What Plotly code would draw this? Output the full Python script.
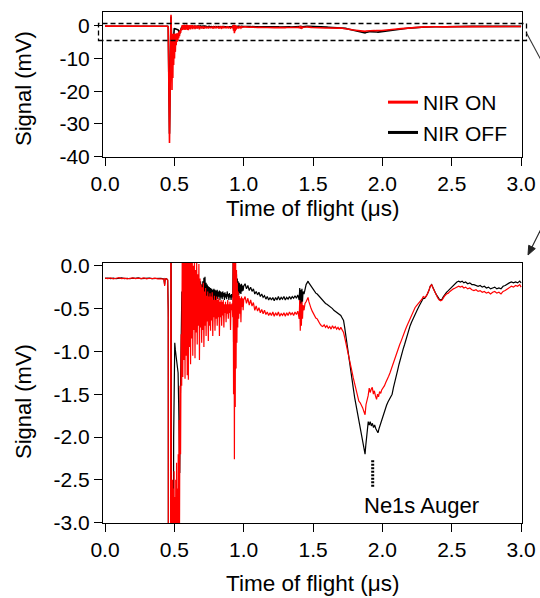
import plotly.graph_objects as go

# ---------------- data (time of flight in µs, signal in mV) ----------------
nir_on = [
    (0.000,-0.145),(0.020,-0.150),(0.040,-0.142),(0.060,-0.152),(0.080,-0.146),(0.100,-0.140),
    (0.120,-0.150),(0.140,-0.144),(0.160,-0.153),(0.180,-0.147),(0.200,-0.142),(0.220,-0.151),
    (0.240,-0.145),(0.260,-0.150),(0.280,-0.143),(0.300,-0.152),(0.320,-0.146),(0.340,-0.150),
    (0.360,-0.145),(0.380,-0.153),(0.400,-0.148),(0.415,-0.152),(0.425,-0.160),(0.430,-0.235),
    (0.434,-0.150),(0.445,-0.155),(0.452,-0.170),
    (0.456,-0.60),(0.460,-14.0),(0.465,-35.8),(0.469,-22.0),(0.473,-2.0),(0.476,3.3),(0.479,-4.0),
    (0.483,-19.6),(0.486,-2.5),(0.489,-16.0),(0.492,-2.6),(0.495,-12.0),(0.498,-2.4),(0.501,-10.0),
    (0.504,-2.7),(0.507,-8.0),(0.510,-2.5),(0.513,-6.0),(0.516,-2.3),(0.519,-5.0),(0.522,-2.6),
    (0.525,-4.5),(0.528,-2.2),(0.531,-3.8),(0.534,-1.8),(0.537,-3.2),(0.541,-1.4),(0.545,-2.2),
    (0.549,-0.8),(0.553,-1.4),(0.557,0.15),
    (0.561,-1.30),(0.565,0.20),(0.569,-1.10),(0.573,0.30),(0.577,-1.32),(0.581,0.20),(0.585,-1.05),
    (0.589,0.30),(0.593,-1.28),(0.597,0.15),(0.601,-1.33),(0.605,0.10),(0.609,-0.95),(0.613,0.20),
    (0.617,-1.15),(0.621,0.10),(0.625,-0.85),(0.629,0.15),(0.633,-1.05),(0.637,0.00),(0.641,-0.75),
    (0.645,0.10),(0.649,-1.08),(0.653,-0.05),(0.657,-0.78),(0.661,0.05),(0.665,-0.92),(0.669,-0.10),
    (0.673,-0.70),(0.677,0.02),(0.681,-1.10),(0.685,-0.15),(0.689,-0.72),(0.693,-0.22),(0.697,-0.90),
    (0.701,-0.25),(0.705,-0.75),(0.709,-0.20),(0.713,-0.95),(0.717,-0.30),(0.721,-0.70),(0.725,-0.26),
    (0.729,-0.82),(0.733,-0.35),(0.737,-0.65),(0.741,-0.30),(0.745,-0.88),(0.749,-0.36),(0.753,-0.70),
    (0.757,-0.32),(0.761,-0.76),(0.765,-0.36),(0.769,-0.64),(0.773,-0.31),(0.777,-0.82),(0.781,-0.40),
    (0.785,-0.60),(0.789,-0.35),(0.793,-0.76),(0.797,-0.40),(0.801,-0.62),(0.805,-0.36),(0.809,-0.70),
    (0.813,-0.40),(0.817,-0.60),(0.821,-0.38),(0.825,-0.82),(0.829,-0.42),(0.833,-0.60),(0.837,-0.40),
    (0.841,-0.70),(0.845,-0.42),(0.849,-0.58),(0.853,-0.40),(0.857,-0.72),(0.861,-0.45),(0.865,-0.55),
    (0.869,-0.42),(0.873,-0.66),(0.877,-0.45),(0.881,-0.56),(0.885,-0.40),(0.889,-0.62),(0.893,-0.45),
    (0.897,-0.55),(0.901,-0.42),(0.905,-0.75),(0.909,-0.45),(0.913,-0.52),(0.917,-0.44),(0.921,-0.60),
    (0.924,0.20),(0.927,-1.50),(0.930,0.30),(0.933,-2.26),(0.936,0.20),(0.939,-1.65),(0.942,0.10),
    (0.945,-1.20),(0.948,-0.05),(0.951,-0.90),(0.954,-0.20),(0.957,-0.72),(0.960,-0.30),(0.964,-0.62),
    (0.968,-0.35),(0.972,-0.56),(0.976,-0.38),(0.980,-0.66),(0.984,-0.36),(0.988,-0.48),(0.992,-0.38),
    (0.996,-0.52),
    (1.000,-0.40),(1.010,-0.36),(1.020,-0.44),(1.030,-0.38),(1.040,-0.46),(1.050,-0.40),(1.060,-0.47),
    (1.070,-0.43),(1.080,-0.52),(1.090,-0.47),(1.100,-0.53),(1.110,-0.49),(1.120,-0.55),(1.130,-0.51),
    (1.140,-0.56),(1.150,-0.52),(1.160,-0.57),(1.170,-0.54),(1.180,-0.58),(1.190,-0.55),(1.200,-0.58),
    (1.210,-0.54),(1.220,-0.59),(1.230,-0.55),(1.240,-0.58),(1.250,-0.54),(1.260,-0.59),(1.270,-0.56),
    (1.280,-0.58),(1.290,-0.55),(1.300,-0.59),(1.310,-0.55),(1.320,-0.58),(1.330,-0.54),(1.340,-0.57),
    (1.350,-0.55),(1.360,-0.58),(1.370,-0.54),(1.380,-0.57),(1.390,-0.53),(1.400,-0.62),(1.404,-0.40),
    (1.408,-0.76),(1.412,-0.44),(1.416,-0.70),(1.420,-0.42),(1.424,-0.62),(1.428,-0.46),(1.435,-0.52),
    (1.442,-0.44),(1.450,-0.42),(1.457,-0.39),(1.464,-0.37),(1.470,-0.42),(1.478,-0.47),(1.486,-0.50),
    (1.494,-0.53),(1.502,-0.56),(1.510,-0.58),(1.520,-0.61),(1.530,-0.62),(1.540,-0.66),(1.550,-0.68),
    (1.560,-0.70),(1.570,-0.71),(1.580,-0.69),(1.590,-0.72),(1.600,-0.70),(1.610,-0.73),(1.620,-0.71),
    (1.630,-0.74),(1.640,-0.70),(1.650,-0.73),(1.660,-0.71),(1.670,-0.74),(1.680,-0.72),(1.690,-0.75),
    (1.700,-0.72),(1.710,-0.76),(1.720,-0.78),(1.730,-0.85),(1.740,-0.92),(1.750,-1.00),(1.760,-1.08),
    (1.770,-1.16),(1.780,-1.23),(1.790,-1.31),(1.800,-1.38),(1.808,-1.45),(1.815,-1.50),(1.823,-1.55),
    (1.830,-1.58),(1.840,-1.60),(1.850,-1.63),(1.858,-1.66),(1.866,-1.70),(1.875,-1.74),(1.882,-1.62),
    (1.890,-1.58),(1.897,-1.52),(1.905,-1.43),(1.912,-1.48),(1.920,-1.44),(1.927,-1.42),(1.935,-1.50),
    (1.942,-1.46),(1.950,-1.52),(1.958,-1.56),(1.965,-1.50),(1.972,-1.53),(1.980,-1.47),(1.988,-1.49),
    (1.995,-1.45),(2.005,-1.43),(2.015,-1.40),(2.025,-1.36),(2.035,-1.33),(2.045,-1.29),(2.055,-1.25),
    (2.065,-1.20),(2.075,-1.16),(2.085,-1.10),(2.095,-1.06),(2.105,-1.01),(2.115,-0.96),(2.125,-0.92),
    (2.135,-0.88),(2.145,-0.83),(2.155,-0.79),(2.165,-0.75),(2.175,-0.71),(2.185,-0.67),(2.195,-0.63),
    (2.205,-0.59),(2.215,-0.55),(2.225,-0.52),(2.235,-0.49),(2.245,-0.47),(2.255,-0.45),(2.265,-0.44),
    (2.275,-0.42),(2.285,-0.39),(2.295,-0.36),(2.305,-0.37),(2.315,-0.36),(2.325,-0.33),(2.335,-0.29),
    (2.345,-0.24),(2.355,-0.22),(2.362,-0.25),(2.370,-0.28),(2.380,-0.31),(2.390,-0.34),(2.400,-0.38),
    (2.410,-0.40),(2.420,-0.41),(2.430,-0.40),(2.440,-0.37),(2.450,-0.35),(2.462,-0.33),(2.475,-0.32),
    (2.487,-0.30),(2.500,-0.28),(2.512,-0.27),(2.525,-0.26),(2.537,-0.25),(2.550,-0.24),(2.562,-0.25),
    (2.575,-0.24),(2.587,-0.26),(2.600,-0.25),(2.615,-0.27),(2.630,-0.26),(2.645,-0.28),(2.660,-0.29),
    (2.675,-0.28),(2.690,-0.30),(2.705,-0.29),(2.720,-0.31),(2.735,-0.30),(2.750,-0.32),(2.765,-0.31),
    (2.780,-0.33),(2.795,-0.31),(2.810,-0.30),(2.825,-0.32),(2.840,-0.31),(2.855,-0.33),(2.870,-0.30),
    (2.885,-0.29),(2.900,-0.27),(2.915,-0.26),(2.930,-0.24),(2.945,-0.25),(2.960,-0.23),(2.975,-0.24),
    (2.990,-0.22),(3.000,-0.25),
]

nir_off = [
    (0.000,-0.148),(0.020,-0.143),(0.040,-0.150),(0.060,-0.145),(0.080,-0.152),(0.100,-0.146),
    (0.120,-0.141),(0.140,-0.150),(0.160,-0.146),(0.180,-0.152),(0.200,-0.145),(0.220,-0.148),
    (0.240,-0.142),(0.260,-0.151),(0.280,-0.146),(0.300,-0.149),(0.320,-0.144),(0.340,-0.151),
    (0.360,-0.147),(0.380,-0.150),(0.400,-0.146),(0.415,-0.150),(0.425,-0.158),(0.430,-0.220),
    (0.434,-0.150),(0.445,-0.153),(0.452,-0.165),
    (0.456,-0.50),(0.460,-12.0),(0.465,-33.0),(0.469,-20.0),(0.473,-2.0),(0.476,2.8),(0.479,-3.0),
    (0.483,-15.0),(0.487,-9.0),(0.491,-5.0),(0.495,-2.0),(0.499,-0.95),(0.503,-0.90),(0.507,-0.98),
    (0.511,-1.05),(0.515,-1.10),(0.519,-1.15),(0.523,-1.20),(0.527,-1.25),(0.531,-1.60),(0.535,-2.10),
    (0.539,-2.42),(0.543,-1.60),(0.547,-0.95),(0.551,-0.45),(0.554,-0.30),(0.557,-0.55),
    (0.561,-0.20),(0.565,-0.70),(0.569,-0.15),(0.573,-0.62),(0.577,-0.10),(0.581,-0.68),(0.585,-0.12),
    (0.589,-0.55),(0.593,-0.08),(0.597,-0.60),(0.601,-0.10),(0.605,-0.52),(0.609,-0.12),(0.613,-0.58),
    (0.617,-0.15),(0.621,-0.50),(0.625,-0.10),(0.629,-0.48),(0.633,-0.14),(0.637,-0.52),(0.641,-0.12),
    (0.645,-0.45),(0.649,-0.18),(0.653,-0.48),(0.657,-0.15),(0.661,-0.44),(0.665,-0.20),(0.669,-0.45),
    (0.673,-0.16),(0.677,-0.42),(0.681,-0.20),(0.685,-0.46),(0.689,-0.18),(0.693,-0.40),(0.697,-0.22),
    (0.701,-0.42),(0.705,-0.18),(0.709,-0.38),(0.713,-0.14),(0.717,-0.36),(0.721,-0.13),(0.725,-0.38),
    (0.729,-0.20),(0.733,-0.40),(0.737,-0.22),(0.741,-0.36),(0.745,-0.24),(0.749,-0.42),(0.753,-0.25),
    (0.757,-0.38),(0.761,-0.26),(0.765,-0.40),(0.769,-0.27),(0.773,-0.37),(0.777,-0.28),(0.781,-0.40),
    (0.785,-0.27),(0.789,-0.36),(0.793,-0.28),(0.797,-0.40),(0.801,-0.29),(0.805,-0.37),(0.809,-0.28),
    (0.813,-0.39),(0.817,-0.30),(0.821,-0.36),(0.825,-0.29),(0.829,-0.40),(0.833,-0.30),(0.837,-0.37),
    (0.841,-0.31),(0.845,-0.39),(0.849,-0.30),(0.853,-0.36),(0.857,-0.32),(0.861,-0.40),(0.865,-0.31),
    (0.869,-0.37),(0.873,-0.33),(0.877,-0.39),(0.881,-0.30),(0.885,-0.36),(0.889,-0.33),(0.893,-0.40),
    (0.897,-0.32),(0.901,-0.37),(0.905,-0.34),(0.909,-0.40),(0.913,-0.33),(0.917,-0.37),(0.921,-0.35),
    (0.924,0.10),(0.927,-0.90),(0.930,0.15),(0.933,-1.20),(0.936,0.05),(0.939,-0.80),(0.942,-0.05),
    (0.945,-0.60),(0.948,-0.10),(0.951,-0.45),(0.954,-0.15),(0.957,-0.38),(0.960,-0.18),(0.964,-0.34),
    (0.968,-0.20),(0.972,-0.32),(0.976,-0.22),(0.980,-0.33),(0.984,-0.21),(0.988,-0.30),(0.992,-0.23),
    (0.996,-0.29),
    (1.000,-0.24),(1.010,-0.21),(1.020,-0.27),(1.030,-0.23),(1.040,-0.29),(1.050,-0.25),(1.060,-0.30),
    (1.070,-0.27),(1.080,-0.33),(1.090,-0.30),(1.100,-0.34),(1.110,-0.31),(1.120,-0.36),(1.130,-0.33),
    (1.140,-0.37),(1.150,-0.35),(1.160,-0.39),(1.170,-0.36),(1.180,-0.40),(1.190,-0.37),(1.200,-0.40),
    (1.210,-0.37),(1.220,-0.41),(1.230,-0.37),(1.240,-0.40),(1.250,-0.36),(1.260,-0.40),(1.270,-0.37),
    (1.280,-0.39),(1.290,-0.36),(1.300,-0.40),(1.310,-0.37),(1.320,-0.39),(1.330,-0.36),(1.340,-0.39),
    (1.350,-0.36),(1.360,-0.38),(1.370,-0.35),(1.380,-0.38),(1.390,-0.34),(1.400,-0.40),(1.404,-0.26),
    (1.408,-0.56),(1.412,-0.28),(1.416,-0.50),(1.420,-0.27),(1.424,-0.42),(1.428,-0.30),(1.435,-0.33),
    (1.442,-0.26),(1.450,-0.22),(1.457,-0.20),(1.464,-0.18),(1.470,-0.20),(1.478,-0.22),(1.486,-0.25),
    (1.494,-0.27),(1.502,-0.29),(1.510,-0.30),(1.520,-0.32),(1.530,-0.33),(1.540,-0.35),(1.550,-0.36),
    (1.560,-0.38),(1.570,-0.40),(1.580,-0.43),(1.590,-0.44),(1.600,-0.45),(1.610,-0.46),(1.620,-0.48),
    (1.630,-0.49),(1.640,-0.50),(1.650,-0.52),(1.660,-0.53),(1.670,-0.54),(1.680,-0.55),(1.690,-0.57),
    (1.700,-0.58),(1.710,-0.61),(1.720,-0.64),(1.728,-0.72),(1.736,-0.82),(1.744,-0.92),(1.752,-1.00),
    (1.760,-1.08),(1.770,-1.20),(1.780,-1.31),(1.790,-1.43),(1.800,-1.54),(1.810,-1.63),(1.820,-1.72),
    (1.830,-1.80),(1.840,-1.89),(1.848,-1.95),(1.856,-2.02),(1.864,-2.10),(1.870,-2.15),(1.875,-2.20),
    (1.880,-2.10),(1.886,-1.98),(1.892,-1.88),(1.898,-1.82),(1.905,-1.86),(1.912,-1.82),(1.920,-1.87),
    (1.928,-1.84),(1.936,-1.89),(1.944,-1.86),(1.952,-1.90),(1.960,-1.93),(1.968,-1.95),(1.976,-1.90),
    (1.984,-1.86),(1.992,-1.80),(2.000,-1.76),(2.010,-1.72),(2.020,-1.67),(2.030,-1.63),(2.040,-1.59),
    (2.050,-1.56),(2.060,-1.53),(2.070,-1.50),(2.080,-1.42),(2.090,-1.34),(2.100,-1.28),(2.110,-1.22),
    (2.120,-1.15),(2.130,-1.08),(2.140,-1.02),(2.150,-0.97),(2.160,-0.92),(2.170,-0.86),(2.180,-0.80),
    (2.190,-0.75),(2.200,-0.70),(2.210,-0.66),(2.220,-0.62),(2.235,-0.57),(2.250,-0.52),(2.265,-0.47),
    (2.280,-0.42),(2.295,-0.38),(2.305,-0.38),(2.315,-0.36),(2.325,-0.33),(2.335,-0.29),(2.345,-0.24),
    (2.355,-0.22),(2.362,-0.25),(2.370,-0.28),(2.380,-0.31),(2.390,-0.34),(2.400,-0.37),(2.410,-0.39),
    (2.420,-0.40),(2.430,-0.39),(2.440,-0.36),(2.450,-0.33),(2.462,-0.31),(2.475,-0.29),(2.487,-0.27),
    (2.500,-0.24),(2.512,-0.22),(2.525,-0.21),(2.537,-0.19),(2.550,-0.18),(2.562,-0.19),(2.575,-0.18),
    (2.587,-0.20),(2.600,-0.19),(2.615,-0.21),(2.630,-0.20),(2.645,-0.22),(2.660,-0.22),(2.675,-0.23),
    (2.690,-0.24),(2.705,-0.23),(2.720,-0.25),(2.735,-0.24),(2.750,-0.26),(2.765,-0.25),(2.780,-0.27),
    (2.795,-0.26),(2.810,-0.25),(2.825,-0.27),(2.840,-0.26),(2.855,-0.27),(2.870,-0.24),(2.885,-0.23),
    (2.900,-0.21),(2.915,-0.20),(2.930,-0.19),(2.945,-0.20),(2.960,-0.19),(2.975,-0.20),(2.990,-0.18),
    (3.000,-0.20),
]

x_ticks = [0.0, 0.5, 1.0, 1.5, 2.0, 2.5, 3.0]
x_tick_labels = ["0.0", "0.5", "1.0", "1.5", "2.0", "2.5", "3.0"]
top_y_ticks = [-40, -30, -20, -10, 0]
top_y_labels = ["-40", "-30", "-20", "-10", "0"]
bot_y_ticks = [-3.0, -2.5, -2.0, -1.5, -1.0, -0.5, 0.0]
bot_y_labels = ["-3.0", "-2.5", "-2.0", "-1.5", "-1.0", "-0.5", "0.0"]

auger_label = "Ne1s Auger"
auger_pos = 1.93

# ---------------------------------------------------------------------------
t_on = [p[0] for p in nir_on]
v_on = [p[1] for p in nir_on]
t_off = [p[0] for p in nir_off]
v_off = [p[1] for p in nir_off]

W, H = 540, 598
FONT = "Liberation Sans, Arial, Helvetica, sans-serif"
RED = "#ff0000"
BLACK = "#000000"


def px(xp):
    return xp / W


def py(yp):
    return 1 - yp / H


fig = go.Figure()

fig.add_trace(go.Scatter(x=t_off, y=v_off, mode="lines", line=dict(color=BLACK, width=1.6),
                         xaxis="x", yaxis="y", showlegend=False, name="NIR OFF"))
fig.add_trace(go.Scatter(x=t_on, y=v_on, mode="lines", line=dict(color=RED, width=1.6),
                         xaxis="x", yaxis="y", showlegend=False, name="NIR ON"))
fig.add_trace(go.Scatter(x=t_off, y=v_off, mode="lines", line=dict(color=BLACK, width=1.2),
                         xaxis="x2", yaxis="y2", showlegend=False, name="NIR OFF"))
fig.add_trace(go.Scatter(x=t_on, y=v_on, mode="lines", line=dict(color=RED, width=1.2),
                         xaxis="x2", yaxis="y2", showlegend=False, name="NIR ON"))
fig.add_trace(go.Scatter(x=[None], y=[None], mode="lines", line=dict(color=RED, width=3),
                         xaxis="x", yaxis="y", name="NIR ON"))
fig.add_trace(go.Scatter(x=[None], y=[None], mode="lines", line=dict(color=BLACK, width=3),
                         xaxis="x", yaxis="y", name="NIR OFF"))

axis_common = dict(showline=True, linecolor=BLACK, linewidth=1, mirror=True,
                   ticks="outside", ticklen=8, tickwidth=1, tickcolor=BLACK,
                   showgrid=False, zeroline=False, automargin=False,
                   tickfont=dict(family=FONT, size=21, color=BLACK))

xr = [-0.0144, 3.0065]
fig.update_layout(
    template="none",
    width=W, height=H, autosize=False,
    margin=dict(l=0, r=0, t=0, b=0, pad=0),
    paper_bgcolor="white", plot_bgcolor="white",
    font=dict(family=FONT, size=21, color=BLACK),
    xaxis=dict(domain=[px(103), px(522)], range=xr, anchor="y",
               tickvals=x_ticks, ticktext=x_tick_labels, **axis_common),
    yaxis=dict(domain=[py(157), py(12)], range=[-40.09, 4.18], anchor="x",
               tickvals=top_y_ticks, ticktext=top_y_labels, **axis_common),
    xaxis2=dict(domain=[px(103), px(522)], range=xr, anchor="y2",
                tickvals=x_ticks, ticktext=x_tick_labels, **axis_common),
    yaxis2=dict(domain=[py(523), py(263)], range=[-3.004, 0.032], anchor="x2",
                tickvals=bot_y_ticks, ticktext=bot_y_labels, **axis_common),
    legend=dict(x=px(383), y=py(82), xanchor="left", yanchor="top",
                bgcolor="rgba(0,0,0,0)", borderwidth=0,
                font=dict(family=FONT, size=21, color=BLACK),
                tracegroupgap=0),
)

for yc in (89, 402):
    fig.add_annotation(text="Signal (mV)", textangle=-90, xref="paper", yref="paper",
                       x=px(23), y=py(yc), xanchor="center", yanchor="middle",
                       showarrow=False, font=dict(family=FONT, size=22, color=BLACK))
for yc in (208, 583):
    fig.add_annotation(text="Time of flight (\u03bcs)", xref="paper", yref="paper",
                       x=px(312.5), y=py(yc), xanchor="center", yanchor="middle",
                       showarrow=False, font=dict(family=FONT, size=22.5, color=BLACK))

# dashed zoom box on the top panel
fig.add_shape(type="rect", xref="paper", yref="paper",
              x0=px(98.5), x1=px(526.5), y0=py(40.5), y1=py(23.5),
              line=dict(color=BLACK, width=1.3, dash="5px,3px"))
# connector line leaving the zoom box
fig.add_shape(type="line", xref="paper", yref="paper",
              x0=px(526.5), y0=py(33), x1=px(541), y1=py(60),
              line=dict(color="#333333", width=1.1))
# arrow entering the bottom panel: shaft + filled head
fig.add_shape(type="line", xref="paper", yref="paper",
              x0=px(541), y0=py(229), x1=px(531), y1=py(249),
              line=dict(color="#222222", width=1.1))
head = [(528, 255), (535.3, 248.6), (528.7, 245.3)]
head_path = "M {} {} L {} {} L {} {} Z".format(
    *[v for xy in head for v in (px(xy[0]), py(xy[1]))])
fig.add_shape(type="path", xref="paper", yref="paper", path=head_path,
              line=dict(color="#222222", width=1), fillcolor="#222222")

# Ne1s Auger marker
fig.add_shape(type="line", xref="x2", yref="y2", x0=auger_pos, x1=auger_pos,
              y0=-2.27, y1=-2.59, line=dict(color=BLACK, width=3, dash="2px,1.5px"))
fig.add_annotation(text=auger_label, xref="x2", yref="y2", x=2.285, y=-2.805,
                   xanchor="center", yanchor="middle",
                   showarrow=False, font=dict(family=FONT, size=22, color=BLACK))

# the page body keeps the browser's default 8 px margin unless it is removed
fig.write_html("out.html", config={"displayModeBar": False},
               post_script="document.body.style.margin='0px';"
               "document.body.style.overflow='hidden';")
